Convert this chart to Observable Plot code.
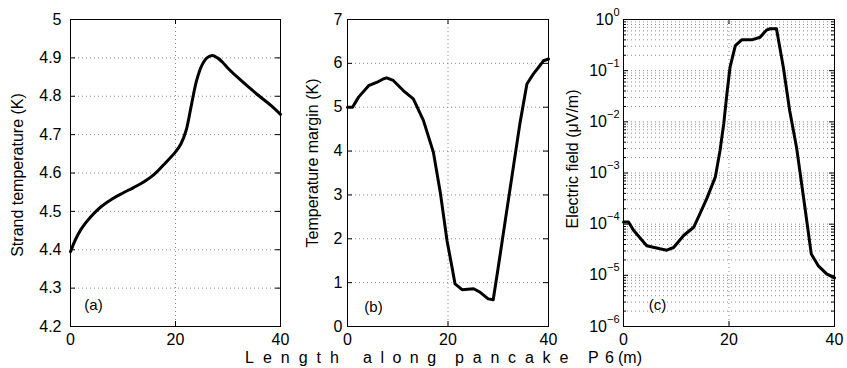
<!DOCTYPE html>
<html><head><meta charset="utf-8">
<script src="https://cdn.jsdelivr.net/npm/d3@7"></script>
<script src="https://cdn.jsdelivr.net/npm/@observablehq/plot@0.6"></script>
<style>
body{margin:0;background:#fff;}
#wrap{position:relative;width:847px;height:368px;font-family:"Liberation Sans",Arial,Helvetica,sans-serif;}
#wrap svg{position:absolute;left:0;top:0;}
.xl{position:absolute;top:350px;font-size:16px;line-height:16px;white-space:pre;color:#000;}
</style></head><body><div id="wrap"></div>
<script>
// ---- data ----
const xTicks = [0, 20, 40];

const lengthA = [0,1,2,3,4,5,6,8,10,12,14,16,18,20,21,22,23,24,25,26,27,28,29,30,32,34,36,38,40];
const strandTemp = [4.395,4.428,4.453,4.472,4.488,4.502,4.514,4.533,4.548,4.562,4.577,4.597,4.625,4.655,4.675,4.71,4.775,4.84,4.88,4.9,4.906,4.9,4.888,4.873,4.847,4.823,4.8,4.778,4.753];
const yTicksA = [4.2,4.3,4.4,4.5,4.6,4.7,4.8,4.9,5];

const lengthB = [0,1,2.2,4.2,5.9,7.2,7.8,9.1,11.1,13.1,15.1,17.1,18.5,19.8,20.8,21.4,22.8,25.1,26.4,28,29,30,31.4,33,34.3,35.7,37,38.3,39,40];
const tempMargin = [5.0,5.0,5.23,5.49,5.57,5.65,5.67,5.61,5.38,5.19,4.70,3.97,3.03,1.96,1.35,0.97,0.84,0.86,0.78,0.63,0.61,1.35,2.42,3.63,4.62,5.53,5.76,5.95,6.06,6.10];
const yTicksB = [0,1,2,3,4,5,6,7];

const lengthC = [0,0.95,1.9,4.4,6.9,8.2,9.5,11.4,13.3,14.5,15.8,17.4,18.3,19.0,19.6,20.2,21.2,22.4,24.3,25.9,27.1,27.8,29.0,30.3,31.5,32.8,34.4,35.6,36.9,38.5,39.8,40];
const electricField = [1.1e-4,1.1e-4,7.6e-5,3.8e-5,3.3e-5,3.1e-5,3.5e-5,6.0e-5,8.7e-5,1.6e-4,3.2e-4,8.3e-4,2.75e-3,9.1e-3,3.5e-2,0.117,0.31,0.40,0.40,0.45,0.62,0.66,0.66,0.117,0.0166,3.2e-3,2.1e-4,2.6e-5,1.55e-5,1.07e-5,9.1e-6,8.9e-6];
const yTicksC = [1e-6,1e-5,1e-4,1e-3,1e-2,1e-1,1];
const minorMultipliers = [2,3,4,5,6,7,8,9];
const yMinorC = yTicksC.slice(0, -1).flatMap(d => minorMultipliers.map(m => m * d));

const FONT = '"Liberation Sans", Arial, Helvetica, sans-serif';
const GRID = {stroke: "#8c8c8c", strokeOpacity: 1, strokeWidth: 1, strokeDasharray: "1,3"};

function panel(o) {
  const ML = o.ml, MR = o.mr, MT = 19, MB = 42;
  const W = 847 - ML - MR, H = 368 - MT - MB;
  const data = o.x.map((d, i) => ({x: d, y: o.y[i]}));
  const marks = [
    Plot.gridY(o.yGrid, GRID),
    Plot.gridX([20], GRID),
    Plot.line(data, {x: "x", y: "y", stroke: "#000", strokeWidth: 3, curve: o.curve, strokeLinejoin: "round"}),
    Plot.frame({stroke: "#000", strokeWidth: 1}),
    Plot.tickX(xTicks, {x: d => d, insetTop: H - 5, stroke: "#000"}),
    Plot.tickX(xTicks, {x: d => d, insetBottom: H - 5, stroke: "#000"}),
    Plot.tickY(o.yTicks, {y: d => d, insetRight: W - 5, stroke: "#000"}),
    Plot.tickY(o.yTicks, {y: d => d, insetLeft: W - 5, stroke: "#000"}),
    Plot.axisX(xTicks, {tickSize: 0, tickPadding: 7, label: null, fontSize: 16}),
    Plot.axisY(o.yTicks, {tickSize: 0, tickPadding: o.yPad, label: null, tickFormat: o.yFormat, fontSize: 16}),
    Plot.text([o.label], {frameAnchor: "left", textAnchor: "middle", lineAnchor: "middle", rotate: -90, dx: o.labelDx, dy: o.labelDy, fontSize: 16, fill: "#000"}),
    Plot.text([o.tag], {frameAnchor: "bottom-left", textAnchor: "middle", lineAnchor: "middle", dx: o.tagDx, dy: o.tagDy, fontSize: 15, fill: "#000"})
  ];
  if (o.yMinor) {
    marks.push(Plot.tickY(o.yMinor, {y: d => d, insetRight: W - 3, stroke: "#000"}));
    marks.push(Plot.tickY(o.yMinor, {y: d => d, insetLeft: W - 3, stroke: "#000"}));
  }
  return Plot.plot({
    width: 847, height: 368,
    marginLeft: ML, marginRight: MR, marginTop: MT, marginBottom: MB,
    style: {fontFamily: FONT, fontSize: "16px", color: "#000", background: "transparent", overflow: "visible", maxWidth: "none"},
    x: {domain: [0, 40]},
    y: {type: o.yType || "linear", domain: o.yDomain},
    marks
  });
}

const wrap = document.getElementById("wrap");

wrap.appendChild(panel({
  ml: 70, mr: 567, x: lengthA, y: strandTemp, yDomain: [4.2, 5], yTicks: yTicksA, yGrid: yTicksA,
  curve: "catmull-rom", yPad: 9, yFormat: d => d === 5 ? "5" : d.toFixed(1),
  label: "Strand temperature (K)", labelDx: -53, labelDy: 2,
  tag: "(a)", tagDx: 23, tagDy: -21
}));

wrap.appendChild(panel({
  ml: 347, mr: 299, x: lengthB, y: tempMargin, yDomain: [0, 7], yTicks: yTicksB, yGrid: yTicksB,
  curve: "linear", yPad: 5, yFormat: d => String(d),
  label: "Temperature margin (K)", labelDx: -35, labelDy: -10,
  tag: "(b)", tagDx: 26, tagDy: -19
}));

const svgC = panel({
  ml: 623, mr: 13, x: lengthC, y: electricField, yType: "log", yDomain: [1e-6, 1], yTicks: yTicksC,
  yGrid: yTicksC.concat(yMinorC), yMinor: yMinorC,
  curve: "linear", yPad: 4, yFormat: d => "10^" + Math.round(Math.log10(d)),
  label: "Electric field (\u03bcV/m)", labelDx: -51, labelDy: -14,
  tag: "(c)", tagDx: 34, tagDy: -21
});
wrap.appendChild(svgC);

// superscript exponents on the log axis labels
svgC.querySelectorAll('g[aria-label="y-axis tick label"] text').forEach(t => {
  const s = t.textContent;
  if (!s.startsWith("10^")) return;
  const e = s.slice(3).replace("-", "\u2212");
  t.textContent = "";
  const ns = "http://www.w3.org/2000/svg";
  const a = document.createElementNS(ns, "tspan"); a.textContent = "10";
  const b = document.createElementNS(ns, "tspan"); b.textContent = e;
  b.setAttribute("dy", "-9"); b.setAttribute("font-size", "11");
  t.appendChild(a); t.appendChild(b);
});

// shared x label
const words = [
  {t: "Length", left: 245, ls: 9},
  {t: "along", left: 363, ls: 8.5},
  {t: "pancake", left: 455, ls: 8.8},
  {t: "P6", left: 588, ls: 6.3},
  {t: "(m)", left: 618, ls: 0}
];
words.forEach(w => {
  const s = document.createElement("span");
  s.className = "xl"; s.textContent = w.t;
  s.style.left = w.left + "px"; s.style.letterSpacing = w.ls + "px";
  wrap.appendChild(s);
});
</script></body></html>
